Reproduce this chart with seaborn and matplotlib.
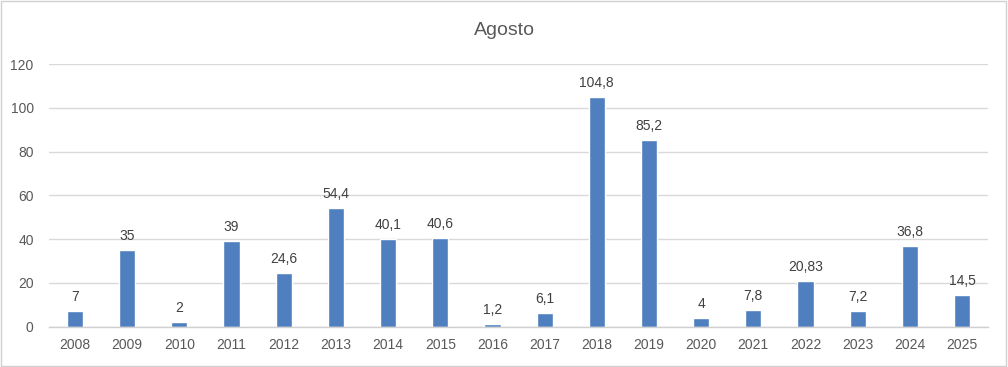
import matplotlib
matplotlib.use("Agg")
import matplotlib.pyplot as plt
import seaborn as sns
import pandas as pd
from matplotlib.patches import Rectangle

# data
years = [str(y) for y in range(2008, 2026)]
values = [7, 35, 2, 39, 24.6, 54.4, 40.1, 40.6, 1.2, 6.1, 104.8, 85.2, 4, 7.8, 20.83, 7.2, 36.8, 14.5]
labels = ["7", "35", "2", "39", "24,6", "54,4", "40,1", "40,6", "1,2", "6,1",
          "104,8", "85,2", "4", "7,8", "20,83", "7,2", "36,8", "14,5"]
yticks = [0, 20, 40, 60, 80, 100, 120]

sns.set_theme(style="white")
plt.rcParams['font.family'] = ['Liberation Sans', 'DejaVu Sans']

txt = '#595959'
bar_color = '#4F7FBE'

df = pd.DataFrame({"year": years, "value": values})

fig = plt.figure(figsize=(10.08, 3.67), dpi=100)
ax = fig.add_axes([0.0486, 0.1098, 0.9316, 0.7158])

sns.barplot(data=df, x="year", y="value", color=bar_color, width=0.31,
            saturation=1, ax=ax)
ax.set_xlim(-0.5, len(years) - 0.5)
ax.set_ylim(0, 120)
ax.set_yticks(yticks)
ax.yaxis.grid(True, color='#d9d9d9', linewidth=1)
ax.set_axisbelow(True)
for s in ['top', 'right', 'left']:
    ax.spines[s].set_visible(False)
ax.spines['bottom'].set_color('#d0d0d0')
ax.spines['bottom'].set_linewidth(1)
ax.tick_params(axis='both', length=0, labelsize=10, colors=txt)
ax.tick_params(axis='y', pad=11)
ax.tick_params(axis='x', pad=8)
ax.set_xlabel("")
ax.set_ylabel("")

ax.bar_label(ax.containers[0], labels=labels, padding=5, fontsize=10, color='#404040')

fig.text(0.5, 0.918, "Agosto", ha='center', va='center', fontsize=14, color=txt)

# outer chart border
fig.patches.append(Rectangle((0.001, 0.003), 0.997, 0.994, transform=fig.transFigure,
                             fill=False, edgecolor='#d0d0d0', linewidth=1))

fig.savefig("out.png", dpi=100, facecolor='white')
